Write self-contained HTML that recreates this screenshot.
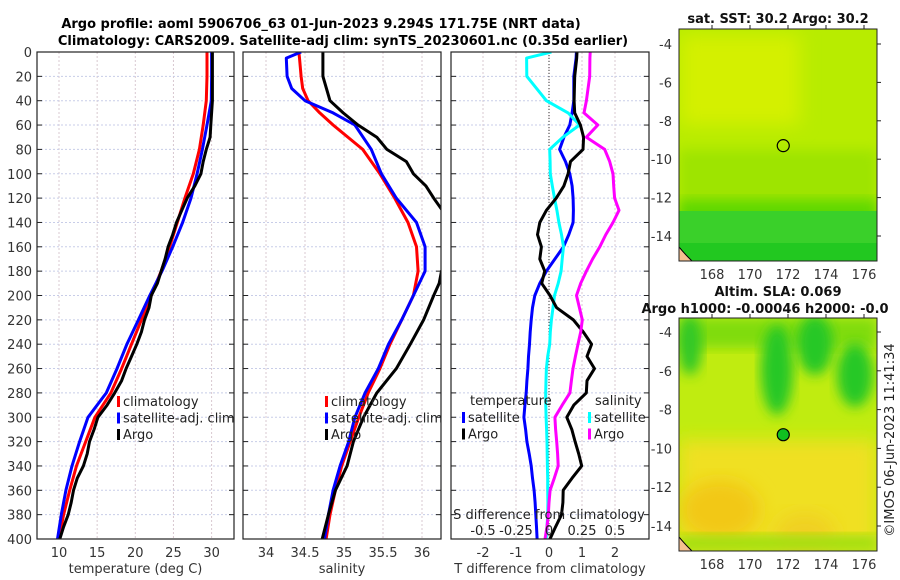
<!DOCTYPE html>
<html><head><meta charset="utf-8"><style>
body{margin:0;background:#fff;}
svg{display:block;font-family:"DejaVu Sans","Liberation Sans",sans-serif;}
</style></head><body>
<svg id="fig" width="900" height="580" viewBox="0 0 900 580" xmlns="http://www.w3.org/2000/svg">
<defs>
<filter id="blur1" x="-20%" y="-20%" width="140%" height="140%"><feGaussianBlur stdDeviation="6"/></filter>
<filter id="blur2" x="-20%" y="-20%" width="140%" height="140%"><feGaussianBlur stdDeviation="9"/></filter>
<clipPath id="cm1"><rect x="679" y="29" width="198" height="232"/></clipPath>
<clipPath id="cm2"><rect x="679" y="318" width="198" height="233"/></clipPath>
<clipPath id="cp1"><rect x="37" y="52" width="197" height="487"/></clipPath>
<clipPath id="cp2"><rect x="243" y="52" width="198" height="487"/></clipPath>
<clipPath id="cp3"><rect x="451" y="52" width="198" height="487"/></clipPath>
</defs>
<text x="321" y="28" font-size="13" font-weight="bold" text-anchor="middle">Argo profile: aoml 5906706_63 01-Jun-2023 9.294S 171.75E (NRT data)</text>
<text x="343" y="45" font-size="13" font-weight="bold" text-anchor="middle">Climatology: CARS2009. Satellite-adj clim: synTS_20230601.nc (0.35d earlier)</text>
<g id="plots"></g>
<g id="maps"></g>
</svg>
<script>
// depth levels (m)
const depths=[0,20,40,60,80,100,120,140,160,180,200,220,240,260,280,300,320,340,360,380,400];
// Temperature profiles (deg C)
const tempClim=[29.4,29.4,29.3,28.9,28.4,27.6,26.5,25.5,24.5,23.4,22.1,20.8,19.5,18.2,16.8,14.7,13.5,12.3,11.4,10.6,10.0];
const tempSat=[30.0,30.0,29.96,29.4,28.8,28.1,27.3,26.2,24.9,23.5,21.9,20.4,18.9,17.6,16.2,13.8,12.7,11.7,10.9,10.3,9.8];
const tempArgoDepth=[0,20,40,60,70,80,90,100,110,120,130,140,150,160,170,180,190,200,210,220,230,240,250,260,270,280,290,300,310,320,330,340,350,360,370,380,390,400];
const tempArgo=[30.1,30.1,30.1,29.9,29.8,29.3,28.9,28.6,27.8,26.8,26.1,25.4,24.9,24.3,23.9,23.4,22.9,22.1,21.8,21.2,20.8,20.2,19.5,18.8,18.2,17.3,16.3,15.1,14.6,14.0,13.7,13.2,12.4,11.9,11.6,11.2,10.6,10.1];
// Salinity profiles
const salDepth=[0,5,20,30,40,50,60,80,100,120,140,160,180,200,220,240,260,280,300,320,340,360,380,400];
const salClim=[34.42,34.43,34.45,34.47,34.54,34.69,34.86,35.24,35.46,35.65,35.82,35.93,35.95,35.89,35.74,35.59,35.46,35.31,35.19,35.08,34.97,34.89,34.82,34.77];
const salSat=[34.45,34.26,34.27,34.33,34.50,34.86,35.14,35.35,35.48,35.67,35.93,36.04,36.04,35.89,35.74,35.57,35.44,35.27,35.14,35.06,34.95,34.86,34.80,34.75];
const salArgoDepth=[0,20,40,50,60,65,70,80,90,100,110,120,130,140,160,180,190,200,220,240,260,280,300,320,340,360,380,400];
const salArgo=[34.73,34.73,34.82,34.99,35.18,35.30,35.42,35.55,35.80,35.89,36.05,36.15,36.26,36.40,36.45,36.25,36.22,36.15,36.02,35.85,35.67,35.42,35.25,35.12,35.04,34.89,34.80,34.72];
// Differences from climatology
const diffDepth=[0,5,20,40,50,60,70,80,90,100,110,120,130,140,150,160,170,180,190,200,210,220,230,240,250,260,270,280,290,300,310,320,330,340,350,360,370,380,390,400];
const tDiffSat=[0.83,0.82,0.75,0.75,0.70,0.63,0.45,0.32,0.50,0.63,0.70,0.73,0.74,0.73,0.60,0.44,0.18,-0.08,-0.28,-0.43,-0.50,-0.54,-0.57,-0.59,-0.62,-0.64,-0.67,-0.69,-0.73,-0.76,-0.71,-0.67,-0.60,-0.54,-0.50,-0.45,-0.42,-0.40,-0.38,-0.36];
const tDiffArgo=[0.85,0.84,0.78,0.76,0.78,0.95,1.05,1.03,0.65,0.58,0.45,0.22,-0.08,-0.28,-0.35,-0.23,-0.28,-0.13,-0.22,0.03,0.23,0.74,1.04,1.29,1.15,1.38,1.15,1.13,0.75,0.54,0.69,0.79,0.90,0.99,0.70,0.43,0.42,0.38,0.20,0.03];
const sDiffSat=[0.018,-0.17,-0.168,-0.02,0.145,0.232,0.105,0.005,0.008,0.010,0.025,0.042,0.06,0.075,0.095,0.11,0.10,0.092,0.07,0.042,0.03,0.018,0.01,0.005,-0.01,-0.02,-0.023,-0.025,-0.024,-0.022,-0.018,-0.015,-0.014,-0.012,-0.010,-0.010,-0.008,-0.010,-0.015,-0.022];
const sDiffArgo=[0.312,0.31,0.308,0.283,0.265,0.37,0.283,0.422,0.46,0.485,0.49,0.497,0.53,0.485,0.43,0.385,0.33,0.283,0.24,0.208,0.23,0.252,0.24,0.22,0.20,0.182,0.17,0.158,0.10,0.045,0.05,0.058,0.065,0.07,0.04,0.008,0.0,-0.005,-0.015,-0.03];
// Axis ticks
const depthTicks=[0,20,40,60,80,100,120,140,160,180,200,220,240,260,280,300,320,340,360,380,400];
const tTicks=[10,15,20,25,30];
const sTicks=[34,34.5,35,35.5,36];
const dTicks=[-2,-1,0,1,2];
const dTickLabels=["-2","-1","0","1","2"];
const sdTicks=[-0.5,-0.25,0,0.25,0.5];
const sdTickLabels=["-0.5","-0.25","0","0.25","0.5"];
const lonTicks=[168,170,172,174,176];
const latTicks=[-4,-6,-8,-10,-12,-14];
const argoLon=171.75, argoLat=-9.294;

const NS='http://www.w3.org/2000/svg';
const plots=document.getElementById('plots');
const maps=document.getElementById('maps');
function mk(tag,attrs,parent){const e=document.createElementNS(NS,tag);for(const k in attrs)e.setAttribute(k,attrs[k]);(parent||plots).appendChild(e);return e;}
const yD=d=>52+d*1.2175;
function linear(d0,d1,r0,r1){return v=>r0+(v-d0)/(d1-d0)*(r1-r0);}

function panel(name,x0,x1,xs,ticks,labels,xlabel,clip){
  const g=mk('g',{});
  
  
  mk('rect',{x:x0,y:52,width:x1-x0,height:487,fill:'#fff'},g);
  ticks.forEach(t=>{const l=mk('line',{x1:xs(t),x2:xs(t),y1:52,y2:539,stroke:'#d8c8d0','stroke-width':1,'stroke-dasharray':'2,2'},g);
    });
  depthTicks.forEach(d=>{if(d===0||d===400)return;const l=mk('line',{x1:x0,x2:x1,y1:yD(d),y2:yD(d),stroke:'#c8cde8','stroke-width':1,'stroke-dasharray':'2,2'},g);
    });
  depthTicks.forEach(d=>{mk('line',{x1:x0,x2:x0+5,y1:yD(d),y2:yD(d),stroke:'#222'},g);mk('line',{x1:x1-5,x2:x1,y1:yD(d),y2:yD(d),stroke:'#222'},g);});
  if(labels){ticks.forEach((t,i)=>{const tx=mk('text',{x:xs(t),y:557,'font-size':13,'text-anchor':'middle',fill:'#333'},g);tx.textContent=labels[i];
    });}
  const xl=mk('text',{x:(x0+x1)/2,y:573,'font-size':13,'text-anchor':'middle',fill:'#333'},g);xl.textContent=xlabel;
  
  const sg=mk('g',{'clip-path':'url(#'+clip+')'},g);
  g.series=sg;
  g.frame=()=>mk('rect',{x:x0,y:52,width:x1-x0,height:487,fill:'none',stroke:'#222','stroke-width':1.2},g);
  return g;
}
function line(g,name,xs,xv,dv,color){
  const pts=xv.map((v,i)=>xs(v).toFixed(1)+','+yD(dv[i]).toFixed(1)).join(' ');
  const p=mk('polyline',{points:pts,fill:'none',stroke:color,'stroke-width':3,'stroke-linejoin':'round'},g.series);
  
}
function legend(g,x,y,items){
  items.forEach((it,i)=>{
    mk('rect',{x:x,y:y+i*16.5-10,width:3,height:11,fill:it[1]},g);
    const t=mk('text',{x:x+6,y:y+i*16.5,'font-size':13,fill:'#222'},g);t.textContent=it[0];
    
  });
}
depthTicks.forEach(d=>{const t=mk('text',{x:32,y:yD(d)+5,'font-size':13,'text-anchor':'end',fill:'#333'});t.textContent=d;
  });

const xT=linear(10,30,59,211.6);
const p1=panel('temperature-panel',37,234,xT,tTicks,tTicks.map(String),'temperature (deg C)','cp1');
line(p1,'temp-climatology-line',xT,tempClim,depths,'#ff0000');
line(p1,'temp-satellite-line',xT,tempSat,depths,'#0000ff');
line(p1,'temp-argo-line',xT,tempArgo,tempArgoDepth,'#000');
p1.frame();
legend(p1,117,406,[['climatology','#ff0000'],['satellite-adj. clim','#0000ff'],['Argo','#000']]);

const xS=linear(34,36,266,422);
const p2=panel('salinity-panel',243,441,xS,sTicks,sTicks.map(String),'salinity','cp2');
line(p2,'sal-climatology-line',xS,salClim,salDepth,'#ff0000');
line(p2,'sal-satellite-line',xS,salSat,salDepth,'#0000ff');
line(p2,'sal-argo-line',xS,salArgo,salArgoDepth,'#000');
p2.frame();
legend(p2,325,406,[['climatology','#ff0000'],['satellite-adj. clim','#0000ff'],['Argo','#000']]);

const xDf=linear(0,1,549,582);
const xSd=linear(0,0.25,549,582);
const p3=panel('difference-panel',451,649,xDf,dTicks,dTickLabels,'T difference from climatology','cp3');
const zl=mk('line',{x1:xDf(0),x2:xDf(0),y1:52,y2:539,stroke:'#333','stroke-dasharray':'1,2'},p3.series);

line(p3,'t-diff-satellite-line',xDf,tDiffSat,diffDepth,'#0000ff');
line(p3,'s-diff-satellite-line',xSd,sDiffSat,diffDepth,'#00ffff');
line(p3,'t-diff-argo-line',xDf,tDiffArgo,diffDepth,'#000');
line(p3,'s-diff-argo-line',xSd,sDiffArgo,diffDepth,'#ff00ff');
p3.frame();
{const t=mk('text',{x:470,y:405,'font-size':13,fill:'#222'},p3);t.textContent='temperature';
 const t2=mk('text',{x:595,y:405,'font-size':13,fill:'#222'},p3);t2.textContent='salinity';}
legend(p3,462,422,[['satellite','#0000ff'],['Argo','#000']]);
legend(p3,588,422,[['satellite','#00ffff'],['Argo','#ff00ff']]);
{const t=mk('text',{x:549,y:519,'font-size':13,'text-anchor':'middle',fill:'#222'},p3);t.textContent='S difference from climatology';
 
 sdTicks.forEach((s,i)=>{const tt=mk('text',{x:xSd(s),y:535,'font-size':13,'text-anchor':'middle',fill:'#222'},p3);tt.textContent=sdTickLabels[i];
  });}

function map(name,y0,y1,latY,titles,blobs,base,clip){
  const g=mk('g',{},maps);
  
  const lx=linear(168,176,712,864);
  const inner=mk('g',{'clip-path':'url(#'+clip+')'},g);
  mk('rect',{x:679,y:y0,width:198,height:y1-y0,fill:base},inner);
  blobs.forEach(b=>{mk(b[0],b[1],inner);});
  mk('path',{d:`M679 ${y1} L679 ${y1-14} Q684 ${y1-8} 688 ${y1-4} L692 ${y1} Z`,fill:'#f5c08f',stroke:'#000'},inner);
  mk('circle',{cx:lx(argoLon),cy:latY(argoLat),r:6,fill:name==='sla-map'?'#10c020':'none',stroke:'#000','stroke-width':1.2},inner);
  mk('rect',{x:679,y:y0,width:198,height:y1-y0,fill:'none',stroke:'#222'},g);
  lonTicks.forEach(l=>{const t=mk('text',{x:lx(l),y:y1+18,'font-size':13,'text-anchor':'middle',fill:'#333'},g);t.textContent=l;
    
    mk('line',{x1:lx(l),x2:lx(l),y1:y0,y2:y0-4,stroke:'#222'},g);});
  latTicks.forEach(l=>{const t=mk('text',{x:672,y:latY(l)+5,'font-size':13,'text-anchor':'end',fill:'#333'},g);t.textContent=l;
    
    mk('line',{x1:877,x2:881,y1:latY(l),y2:latY(l),stroke:'#222'},g);});
  titles.forEach(tt=>{const t=mk('text',{x:tt[0],y:tt[1],'font-size':13,'font-weight':'bold','text-anchor':'middle',fill:'#111'},g);t.textContent=tt[2];
    });
}
map('sst-map',29,261,linear(-4,-14,44,236),[[778,23,'sat. SST: 30.2 Argo: 30.2']],[
  ['rect',{x:679,y:150,width:198,height:70,fill:'#9ee400',filter:'url(#blur1)'}],
  ['rect',{x:679,y:200,width:198,height:30,fill:'#5ed800',filter:'url(#blur1)'}],
  ['rect',{x:679,y:241,width:198,height:22,fill:'#22c820'}],
  ['rect',{x:679,y:211,width:198,height:32,fill:'#3ad02a'}],
  ['rect',{x:680,y:35,width:120,height:90,fill:'#d4f000',filter:'url(#blur2)'}]
],'#b8ec00','cm1');
map('sla-map',318,551,linear(-4,-14,332,526),[[778,296,'Altim. SLA: 0.069'],[765,313,'Argo h1000: -0.00046 h2000: -0.0']],[
  ['rect',{x:679,y:440,width:198,height:110,fill:'#f0e020',filter:'url(#blur2)'}],
  ['ellipse',{cx:720,cy:510,rx:40,ry:30,fill:'#f2c818',filter:'url(#blur2)'}],
  ['ellipse',{cx:805,cy:535,rx:30,ry:22,fill:'#f0d020',filter:'url(#blur2)'}],
  ['rect',{x:679,y:318,width:198,height:30,fill:'#80dc10',filter:'url(#blur1)'}],
  ['ellipse',{cx:690,cy:345,rx:12,ry:30,fill:'#30c828',filter:'url(#blur1)'}],
  ['ellipse',{cx:777,cy:370,rx:16,ry:45,fill:'#28c828',filter:'url(#blur1)'}],
  ['ellipse',{cx:815,cy:345,rx:18,ry:30,fill:'#28c828',filter:'url(#blur1)'}],
  ['ellipse',{cx:855,cy:375,rx:18,ry:32,fill:'#28c828',filter:'url(#blur1)'}],
  ['rect',{x:679,y:535,width:198,height:16,fill:'#a0e010',filter:'url(#blur1)'}]
],'#c0ec10','cm2');
{const t=mk('text',{x:0,y:0,'font-size':13,'text-anchor':'middle',fill:'#222',transform:'translate(894,440) rotate(-90)'},maps);
 t.textContent='©IMOS 06-Jun-2023 11:41:34';}
</script>
</body></html>
